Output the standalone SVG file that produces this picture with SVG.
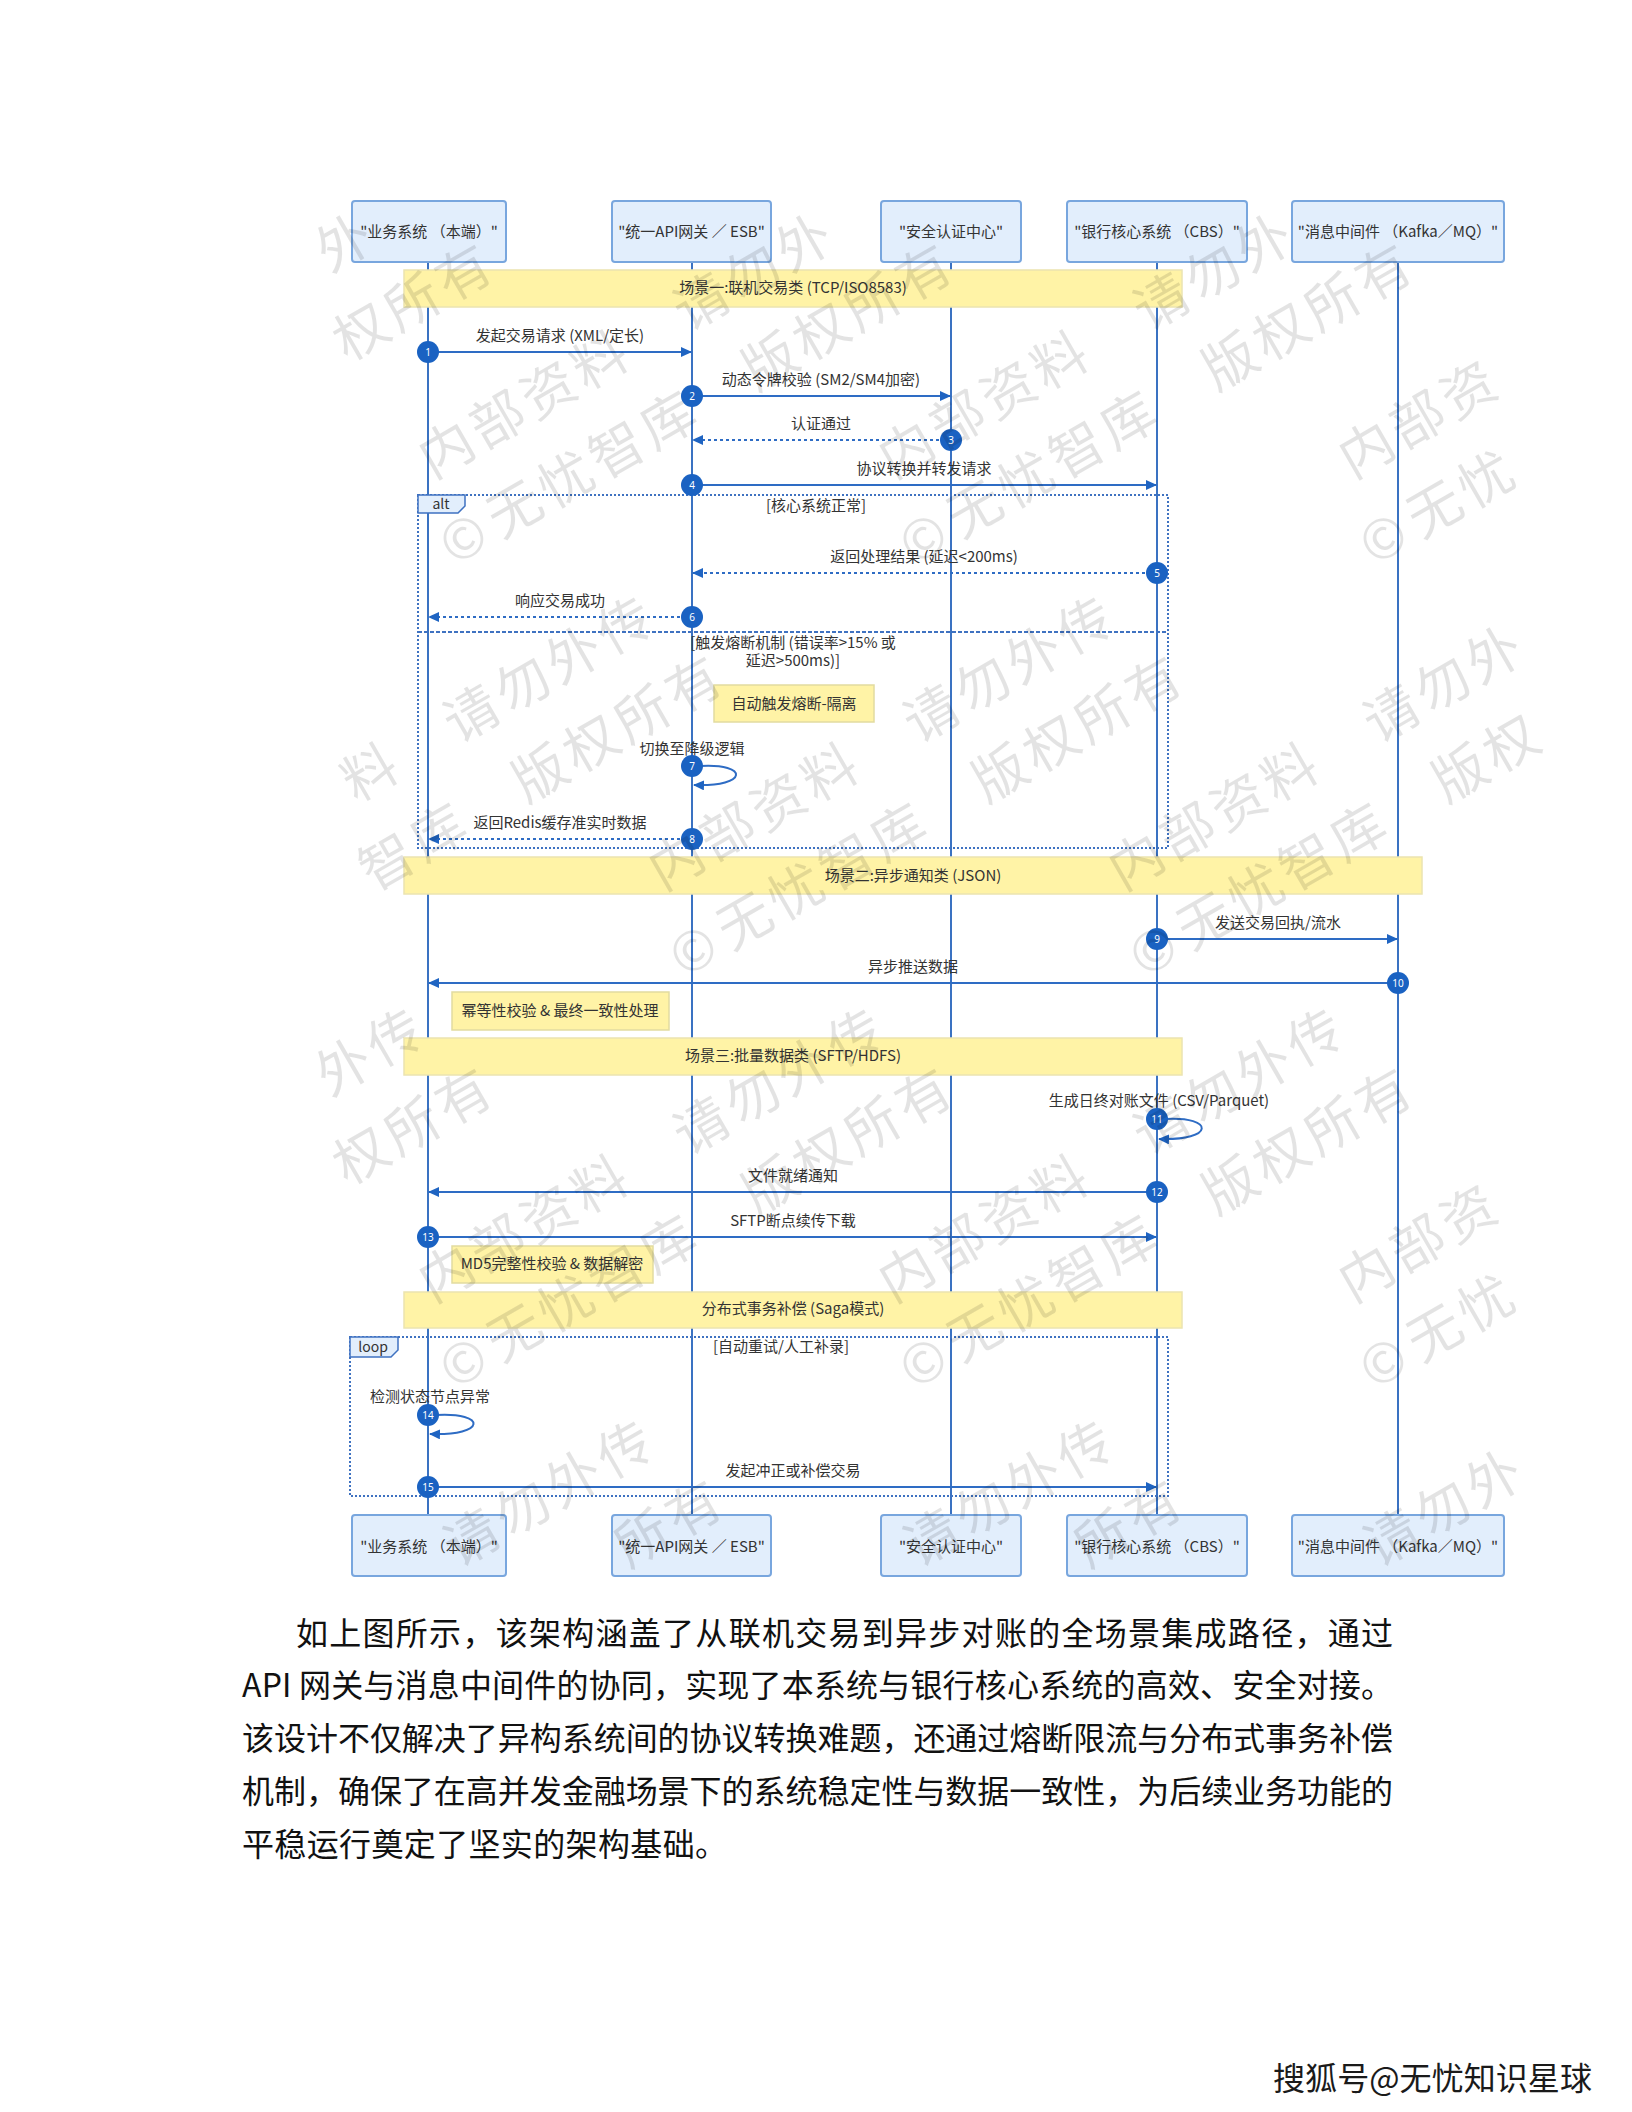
<svg xmlns="http://www.w3.org/2000/svg" width="1632" height="2112" viewBox="0 0 1632 2112">
<defs>
<style>
text{font-family:"Noto Sans CJK SC","Noto Sans",sans-serif;}
.actor rect{fill:#e2eefc;stroke:#78a6de;stroke-width:2;}
.actor text{font-size:15px;fill:#333;text-anchor:middle;}
.life{stroke:#3a72c2;stroke-width:2;fill:none;}
.band rect{fill:#fff3a6;stroke:#ebe4b0;stroke-width:1.5;}
.band text,.note text{font-size:15px;fill:#333;text-anchor:middle;}
.note rect{fill:#fff3a6;stroke:#e2dba0;stroke-width:1.5;}
.msg{stroke:#2e6cc4;stroke-width:2;fill:none;}
.ret{stroke-dasharray:3 3;}
.lbl{font-size:15px;fill:#333;text-anchor:middle;}
.num circle{fill:#1a62c2;}
.num text{font-size:10px;fill:#fff;text-anchor:middle;font-family:"Noto Sans",sans-serif;}
.frame{fill:none;stroke:#3f72c1;stroke-width:2;stroke-dasharray:2 2;}
.tab{fill:#e2eefc;stroke:#3f72c1;stroke-width:1.5;}
.tabt{font-size:14px;fill:#333;text-anchor:middle;}
.cond{font-size:15px;fill:#333;text-anchor:middle;}
.para{font-family:"Liberation Serif","Noto Sans CJK SC",serif;font-size:32px;fill:#111;}
.wm text{font-size:54px;fill:#000;fill-opacity:0.11;text-anchor:middle;dominant-baseline:central;}
</style>
<marker id="ah" markerUnits="userSpaceOnUse" markerWidth="11" markerHeight="10" refX="10" refY="5" orient="auto">
<path d="M0,0 L11,5 L0,10 z" fill="#1f64c2"/>
</marker>
</defs>
<rect width="1632" height="2112" fill="#fff"/>

<g id="lifelines">
<line class="life" x1="428" y1="262" x2="428" y2="1515"/>
<line class="life" x1="692" y1="262" x2="692" y2="1515"/>
<line class="life" x1="951" y1="262" x2="951" y2="1515"/>
<line class="life" x1="1157" y1="262" x2="1157" y2="1515"/>
<line class="life" x1="1398" y1="262" x2="1398" y2="1515"/>
</g>

<g id="actor-biz-top" class="actor"><rect x="352" y="201" width="154" height="61" rx="3"/><text x="429" y="237">"业务系统 （本端）"</text></g>
<g id="actor-api-top" class="actor"><rect x="612" y="201" width="159" height="61" rx="3"/><text x="691.5" y="237">"统一API网关 ／ ESB"</text></g>
<g id="actor-sec-top" class="actor"><rect x="881" y="201" width="140" height="61" rx="3"/><text x="951" y="237">"安全认证中心"</text></g>
<g id="actor-cbs-top" class="actor"><rect x="1067" y="201" width="180" height="61" rx="3"/><text x="1157" y="237">"银行核心系统 （CBS）"</text></g>
<g id="actor-mq-top" class="actor"><rect x="1292" y="201" width="212" height="61" rx="3"/><text x="1398" y="237">"消息中间件 （Kafka／MQ）"</text></g>

<g id="actor-biz-bottom" class="actor"><rect x="352" y="1515" width="154" height="61" rx="3"/><text x="429" y="1552">"业务系统 （本端）"</text></g>
<g id="actor-api-bottom" class="actor"><rect x="612" y="1515" width="159" height="61" rx="3"/><text x="691.5" y="1552">"统一API网关 ／ ESB"</text></g>
<g id="actor-sec-bottom" class="actor"><rect x="881" y="1515" width="140" height="61" rx="3"/><text x="951" y="1552">"安全认证中心"</text></g>
<g id="actor-cbs-bottom" class="actor"><rect x="1067" y="1515" width="180" height="61" rx="3"/><text x="1157" y="1552">"银行核心系统 （CBS）"</text></g>
<g id="actor-mq-bottom" class="actor"><rect x="1292" y="1515" width="212" height="61" rx="3"/><text x="1398" y="1552">"消息中间件 （Kafka／MQ）"</text></g>

<g id="band-1" class="band"><rect x="404" y="270" width="778" height="37"/><text x="793" y="293">场景一:联机交易类 (TCP/ISO8583)</text></g>
<g id="band-2" class="band"><rect x="404" y="857" width="1018" height="37"/><text x="913" y="881">场景二:异步通知类 (JSON)</text></g>
<g id="band-3" class="band"><rect x="404" y="1038" width="778" height="37"/><text x="793" y="1061">场景三:批量数据类 (SFTP/HDFS)</text></g>
<g id="band-4" class="band"><rect x="404" y="1292" width="778" height="36"/><text x="793" y="1314">分布式事务补偿 (Saga模式)</text></g>

<g id="frame-alt">
<rect class="frame" x="418" y="495" width="750" height="353"/>
<line class="frame" x1="418" y1="632" x2="1168" y2="632" style="stroke-dasharray:4 2"/>
<polygon class="tab" points="418,495 465,495 465,506 458,513 418,513"/>
<text class="tabt" x="441" y="509">alt</text>
<text class="cond" x="816" y="511">[核心系统正常]</text>
<text class="cond" x="793" y="648">[触发熔断机制 (错误率&gt;15% 或</text>
<text class="cond" x="793" y="666">延迟&gt;500ms)]</text>
</g>

<g id="frame-loop">
<rect class="frame" x="350" y="1337" width="818" height="159"/>
<polygon class="tab" points="350,1337 398,1337 398,1350 391,1357 350,1357"/>
<text class="tabt" x="373" y="1352">loop</text>
<text class="cond" x="781" y="1352">[自动重试/人工补录]</text>
</g>

<g id="note-fuse" class="note"><rect x="714" y="685" width="160" height="37"/><text x="794" y="709">自动触发熔断-隔离</text></g>
<g id="note-idem" class="note"><rect x="452" y="992" width="217" height="38"/><text x="560" y="1016">幂等性校验 &amp; 最终一致性处理</text></g>
<g id="note-md5" class="note"><rect x="452" y="1246" width="201" height="37"/><text x="552" y="1269">MD5完整性校验 &amp; 数据解密</text></g>

<g id="connectors">
<line class="msg" x1="428" y1="352" x2="691" y2="352" marker-end="url(#ah)"/>
<text class="lbl" x="560" y="341">发起交易请求 (XML/定长)</text>
<line class="msg" x1="692" y1="396" x2="950" y2="396" marker-end="url(#ah)"/>
<text class="lbl" x="821" y="385">动态令牌校验 (SM2/SM4加密)</text>
<line class="msg ret" x1="951" y1="440" x2="693" y2="440" marker-end="url(#ah)"/>
<text class="lbl" x="821" y="429">认证通过</text>
<line class="msg" x1="692" y1="485" x2="1156" y2="485" marker-end="url(#ah)"/>
<text class="lbl" x="924" y="474">协议转换并转发请求</text>
<line class="msg ret" x1="1157" y1="573" x2="693" y2="573" marker-end="url(#ah)"/>
<text class="lbl" x="924" y="562">返回处理结果 (延迟&lt;200ms)</text>
<line class="msg ret" x1="692" y1="617" x2="429" y2="617" marker-end="url(#ah)"/>
<text class="lbl" x="560" y="606">响应交易成功</text>
<path class="msg" d="M700,766 C749,763 749,787 694,785" marker-end="url(#ah)"/>
<text class="lbl" x="692" y="754">切换至降级逻辑</text>
<line class="msg ret" x1="692" y1="839" x2="429" y2="839" marker-end="url(#ah)"/>
<text class="lbl" x="560" y="828">返回Redis缓存准实时数据</text>
<line class="msg" x1="1157" y1="939" x2="1397" y2="939" marker-end="url(#ah)"/>
<text class="lbl" x="1278" y="928">发送交易回执/流水</text>
<line class="msg" x1="1398" y1="983" x2="429" y2="983" marker-end="url(#ah)"/>
<text class="lbl" x="913" y="972">异步推送数据</text>
<path class="msg" d="M1165,1119 C1215,1116 1215,1141 1159,1139" marker-end="url(#ah)"/>
<text class="lbl" x="1159" y="1106">生成日终对账文件 (CSV/Parquet)</text>
<line class="msg" x1="1157" y1="1192" x2="429" y2="1192" marker-end="url(#ah)"/>
<text class="lbl" x="793" y="1181">文件就绪通知</text>
<line class="msg" x1="428" y1="1237" x2="1156" y2="1237" marker-end="url(#ah)"/>
<text class="lbl" x="793" y="1226">SFTP断点续传下载</text>
<path class="msg" d="M436,1415 C487,1412 487,1436 430,1434" marker-end="url(#ah)"/>
<text class="lbl" x="430" y="1402">检测状态节点异常</text>
<line class="msg" x1="428" y1="1487" x2="1156" y2="1487" marker-end="url(#ah)"/>
<text class="lbl" x="793" y="1476">发起冲正或补偿交易</text>
</g>

<g id="numbers" class="num">
<circle cx="428" cy="352" r="11"/><text x="428" y="356">1</text>
<circle cx="692" cy="396" r="11"/><text x="692" y="400">2</text>
<circle cx="951" cy="440" r="11"/><text x="951" y="444">3</text>
<circle cx="692" cy="485" r="11"/><text x="692" y="489">4</text>
<circle cx="1157" cy="573" r="11"/><text x="1157" y="577">5</text>
<circle cx="692" cy="617" r="11"/><text x="692" y="621">6</text>
<circle cx="692" cy="766" r="11"/><text x="692" y="770">7</text>
<circle cx="692" cy="839" r="11"/><text x="692" y="843">8</text>
<circle cx="1157" cy="939" r="11"/><text x="1157" y="943">9</text>
<circle cx="1398" cy="983" r="11"/><text x="1398" y="987">10</text>
<circle cx="1157" cy="1119" r="11"/><text x="1157" y="1123">11</text>
<circle cx="1157" cy="1192" r="11"/><text x="1157" y="1196">12</text>
<circle cx="428" cy="1237" r="11"/><text x="428" y="1241">13</text>
<circle cx="428" cy="1415" r="11"/><text x="428" y="1419">14</text>
<circle cx="428" cy="1487" r="11"/><text x="428" y="1491">15</text>
</g>

<g id="watermark" class="wm">
<g transform="translate(210,365) rotate(-30)">
<text x="176.7" y="-43">外</text>
<text x="147.5" y="43">权</text><text x="206.5" y="43">所</text><text x="265.5" y="43">有</text>
</g>
<g transform="translate(670,365) rotate(-30)">
<text x="-235.6" y="-43">内</text><text x="-176.7" y="-43">部</text><text x="-117.8" y="-43">资</text><text x="-58.9" y="-43">料</text><text x="58.9" y="-43">请</text><text x="117.8" y="-43">勿</text><text x="176.7" y="-43">外</text>
<text x="-265.5" y="43">©</text><text x="-206.5" y="43">无</text><text x="-147.5" y="43">忧</text><text x="-88.5" y="43">智</text><text x="-29.5" y="43">库</text><text x="88.5" y="43">版</text><text x="147.5" y="43">权</text><text x="206.5" y="43">所</text><text x="265.5" y="43">有</text>
</g>
<g transform="translate(1130,365) rotate(-30)">
<text x="-235.6" y="-43">内</text><text x="-176.7" y="-43">部</text><text x="-117.8" y="-43">资</text><text x="-58.9" y="-43">料</text><text x="58.9" y="-43">请</text><text x="117.8" y="-43">勿</text><text x="176.7" y="-43">外</text>
<text x="-265.5" y="43">©</text><text x="-206.5" y="43">无</text><text x="-147.5" y="43">忧</text><text x="-88.5" y="43">智</text><text x="-29.5" y="43">库</text><text x="88.5" y="43">版</text><text x="147.5" y="43">权</text><text x="206.5" y="43">所</text><text x="265.5" y="43">有</text>
</g>
<g transform="translate(1590,365) rotate(-30)">
<text x="-235.6" y="-43">内</text><text x="-176.7" y="-43">部</text><text x="-117.8" y="-43">资</text>
<text x="-265.5" y="43">©</text><text x="-206.5" y="43">无</text><text x="-147.5" y="43">忧</text>
</g>
<g transform="translate(440,777) rotate(-30)">
<text x="-58.9" y="-43">料</text><text x="58.9" y="-43">请</text><text x="117.8" y="-43">勿</text><text x="176.7" y="-43">外</text><text x="235.6" y="-43">传</text>
<text x="-88.5" y="43">智</text><text x="-29.5" y="43">库</text><text x="88.5" y="43">版</text><text x="147.5" y="43">权</text><text x="206.5" y="43">所</text><text x="265.5" y="43">有</text>
</g>
<g transform="translate(900,777) rotate(-30)">
<text x="-235.6" y="-43">内</text><text x="-176.7" y="-43">部</text><text x="-117.8" y="-43">资</text><text x="-58.9" y="-43">料</text><text x="58.9" y="-43">请</text><text x="117.8" y="-43">勿</text><text x="176.7" y="-43">外</text><text x="235.6" y="-43">传</text>
<text x="-265.5" y="43">©</text><text x="-206.5" y="43">无</text><text x="-147.5" y="43">忧</text><text x="-88.5" y="43">智</text><text x="-29.5" y="43">库</text><text x="88.5" y="43">版</text><text x="147.5" y="43">权</text><text x="206.5" y="43">所</text><text x="265.5" y="43">有</text>
</g>
<g transform="translate(1360,777) rotate(-30)">
<text x="-235.6" y="-43">内</text><text x="-176.7" y="-43">部</text><text x="-117.8" y="-43">资</text><text x="-58.9" y="-43">料</text><text x="58.9" y="-43">请</text><text x="117.8" y="-43">勿</text><text x="176.7" y="-43">外</text>
<text x="-265.5" y="43">©</text><text x="-206.5" y="43">无</text><text x="-147.5" y="43">忧</text><text x="-88.5" y="43">智</text><text x="-29.5" y="43">库</text><text x="88.5" y="43">版</text><text x="147.5" y="43">权</text>
</g>
<g transform="translate(210,1189) rotate(-30)">
<text x="176.7" y="-43">外</text><text x="235.6" y="-43">传</text>
<text x="147.5" y="43">权</text><text x="206.5" y="43">所</text><text x="265.5" y="43">有</text>
</g>
<g transform="translate(670,1189) rotate(-30)">
<text x="-235.6" y="-43">内</text><text x="-176.7" y="-43">部</text><text x="-117.8" y="-43">资</text><text x="-58.9" y="-43">料</text><text x="58.9" y="-43">请</text><text x="117.8" y="-43">勿</text><text x="176.7" y="-43">外</text><text x="235.6" y="-43">传</text>
<text x="-265.5" y="43">©</text><text x="-206.5" y="43">无</text><text x="-147.5" y="43">忧</text><text x="-88.5" y="43">智</text><text x="-29.5" y="43">库</text><text x="88.5" y="43">版</text><text x="147.5" y="43">权</text><text x="206.5" y="43">所</text><text x="265.5" y="43">有</text>
</g>
<g transform="translate(1130,1189) rotate(-30)">
<text x="-235.6" y="-43">内</text><text x="-176.7" y="-43">部</text><text x="-117.8" y="-43">资</text><text x="-58.9" y="-43">料</text><text x="58.9" y="-43">请</text><text x="117.8" y="-43">勿</text><text x="176.7" y="-43">外</text><text x="235.6" y="-43">传</text>
<text x="-265.5" y="43">©</text><text x="-206.5" y="43">无</text><text x="-147.5" y="43">忧</text><text x="-88.5" y="43">智</text><text x="-29.5" y="43">库</text><text x="88.5" y="43">版</text><text x="147.5" y="43">权</text><text x="206.5" y="43">所</text><text x="265.5" y="43">有</text>
</g>
<g transform="translate(1590,1189) rotate(-30)">
<text x="-235.6" y="-43">内</text><text x="-176.7" y="-43">部</text><text x="-117.8" y="-43">资</text>
<text x="-265.5" y="43">©</text><text x="-206.5" y="43">无</text><text x="-147.5" y="43">忧</text>
</g>
<g transform="translate(440,1601) rotate(-30)">
<text x="58.9" y="-43">请</text><text x="117.8" y="-43">勿</text><text x="176.7" y="-43">外</text><text x="235.6" y="-43">传</text>
<text x="206.5" y="43">所</text><text x="265.5" y="43">有</text>
</g>
<g transform="translate(900,1601) rotate(-30)">
<text x="58.9" y="-43">请</text><text x="117.8" y="-43">勿</text><text x="176.7" y="-43">外</text><text x="235.6" y="-43">传</text>
<text x="206.5" y="43">所</text><text x="265.5" y="43">有</text>
</g>
<g transform="translate(1360,1601) rotate(-30)">
<text x="58.9" y="-43">请</text><text x="117.8" y="-43">勿</text><text x="176.7" y="-43">外</text>
</g>
</g>

<g id="paragraph" class="para">
<text x="296" y="1645" textLength="1097" lengthAdjust="spacing">如上图所示，该架构涵盖了从联机交易到异步对账的全场景集成路径，通过</text>
<text x="242" y="1697" textLength="1151" lengthAdjust="spacing">API 网关与消息中间件的协同，实现了本系统与银行核心系统的高效、安全对接。</text>
<text x="242" y="1750" textLength="1151" lengthAdjust="spacing">该设计不仅解决了异构系统间的协议转换难题，还通过熔断限流与分布式事务补偿</text>
<text x="242" y="1803" textLength="1151" lengthAdjust="spacing">机制，确保了在高并发金融场景下的系统稳定性与数据一致性，为后续业务功能的</text>
<text x="242" y="1856" textLength="485" lengthAdjust="spacing">平稳运行奠定了坚实的架构基础。</text>
</g>

<g id="footer">
<text x="1273" y="2090" font-size="32" fill="#1a1a1a" textLength="319" lengthAdjust="spacingAndGlyphs" stroke="#fff" stroke-width="1" paint-order="stroke">搜狐号@无忧知识星球</text>
</g>
</svg>
